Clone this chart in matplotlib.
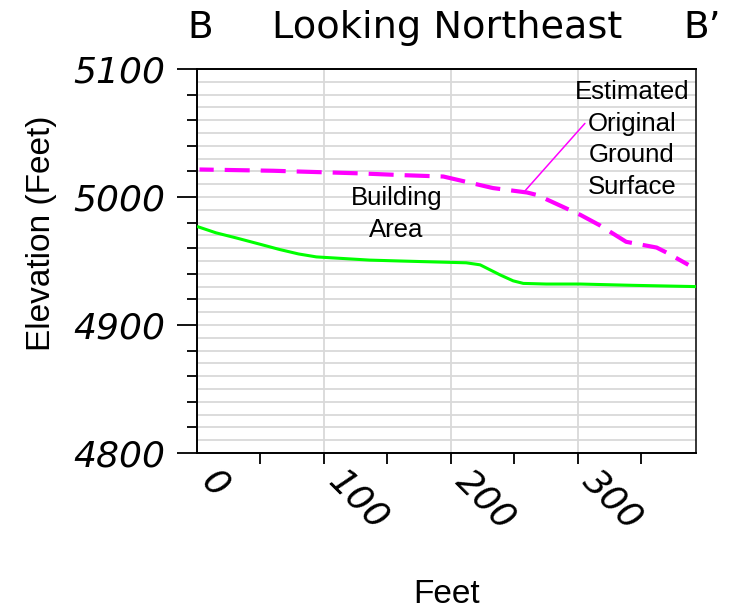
import matplotlib
matplotlib.use('Agg')
import matplotlib.pyplot as plt
import numpy as np
from matplotlib.transforms import ScaledTranslation

# ---- data ----
dist_now = [0, 15, 31, 50, 65, 80, 94, 136, 160, 212, 223, 231, 239, 249, 257, 275, 302, 343, 393]
elev_now = [4977, 4972, 4968, 4963, 4959, 4955.5, 4953.2, 4950.7, 4950, 4948.6, 4947, 4943,
            4939, 4934.5, 4932.5, 4932, 4932, 4931, 4930]

dist_orig = [2, 60, 127, 164, 194, 233, 260, 268, 302, 317, 338, 362, 370, 387]
elev_orig = [5021.5, 5020.5, 5018.5, 5017, 5016, 5007, 5003.5, 5001.5, 4986, 4978, 4965,
             4960.5, 4956.5, 4947]

x_major = [0, 100, 200, 300]
x_minor = [50, 150, 250, 350]
x_labels = ['0', '100', '200', '300']
y_major = [4800, 4900, 5000, 5100]
y_labels = ['4800', '4900', '5000', '5100']

title_left = 'B'
title_mid = 'Looking Northeast'
title_right = 'B\u2019'
xlabel = 'Feet'
ylabel = 'Elevation (Feet)'
note_building = 'Building\nArea'
note_surface = 'Estimated\nOriginal\nGround\nSurface'
note_surface_xy = (342.5, 5045)
note_line_text = (305.5, 5057.5)
note_line_point = (258.5, 5005)
note_building_xy = (157, 4986.5)

W, H = 730, 613
fig = plt.figure(figsize=(W / 100, H / 100), dpi=100)
ax = fig.add_axes([197 / W, 1 - 453 / H, (696 - 197) / W, (453 - 69) / H])
ax.set_xlim(0, 393)
ax.set_ylim(4800, 5100)

grid_c = '#d9d9d9'
ax.set_axisbelow(True)

# y ticks: major every 100, tick marks every 20, gridlines every 10
ax.set_yticks(y_major)
ax.set_yticklabels(y_labels)
ax.set_yticks(np.arange(4800, 5101, 10), minor=True)
ax.yaxis.grid(True, which='both', color=grid_c, lw=1.3)
for t, v in zip(ax.yaxis.get_minor_ticks(), ax.yaxis.get_minorticklocs()):
    if int(round(v)) % 20 != 0:
        t.tick1line.set_visible(False)

ax.set_xticks(x_major)
ax.set_xticklabels(x_labels)
ax.set_xticks(x_minor, minor=True)
ax.xaxis.grid(True, which='major', color=grid_c, lw=1.3)
ax.xaxis.get_major_ticks()[0].tick1line.set_visible(False)

for s in ax.spines.values():
    s.set_linewidth(1.4)
    s.set_color('black')
ax.spines['right'].set_linewidth(1.1)

ax.tick_params(axis='y', which='major', length=14.5, width=1.3, pad=8.5, direction='out')
ax.tick_params(axis='y', which='minor', length=7.5, width=1.3, direction='out')
ax.tick_params(axis='x', which='both', length=8, width=1.3, direction='out')
ax.tick_params(axis='x', which='major', pad=13)

for lbl in ax.get_yticklabels():
    lbl.set_fontsize(26)
    lbl.set_fontstyle('oblique')
    lbl.set_family('DejaVu Sans')

off = ScaledTranslation(3 / 100, 0, fig.dpi_scale_trans)
for lbl in ax.get_xticklabels():
    lbl.set_fontsize(26)
    lbl.set_fontstyle('oblique')
    lbl.set_family('DejaVu Sans')
    lbl.set_rotation(-45)
    lbl.set_ha('left')
    lbl.set_va('baseline')
    lbl.set_rotation_mode('anchor')
    lbl.set_transform(lbl.get_transform() + off)

# lines
ax.plot(dist_now, elev_now, color='#00ff00', lw=2.2, solid_capstyle='butt', zorder=3)
ax.plot(dist_orig, elev_orig, color='#ff00ff', lw=3.0, linestyle=(2.6, (6.0, 2.64)),
        dash_capstyle='butt', zorder=3)

# annotations
ax.text(*note_building_xy, note_building, ha='center', va='center', fontsize=18.5,
        family='Liberation Sans', linespacing=1.4)
ax.text(*note_surface_xy, note_surface, ha='center', va='center', fontsize=18.5,
        family='Liberation Sans', linespacing=1.4)
ax.annotate('', xy=note_line_point, xytext=note_line_text,
            arrowprops=dict(arrowstyle='-', color='#ff00ff', lw=1.1,
                            shrinkA=0, shrinkB=0))

# title pieces
fig.text(187 / W, 1 - 38 / H, title_left, ha='left', va='baseline', fontsize=27, family='DejaVu Sans')
fig.text(447.5 / W, 1 - 38 / H, title_mid, ha='center', va='baseline', fontsize=27.5, family='DejaVu Sans')
fig.text(683 / W, 1 - 38 / H, title_right, ha='left', va='baseline', fontsize=27, family='DejaVu Sans')

# axis labels
fig.text(447 / W, 1 - 603 / H, xlabel, ha='center', va='baseline', fontsize=24, family='Liberation Sans')
fig.text(50 / W, 1 - 233 / H, ylabel, ha='center', va='baseline', rotation=90,
         rotation_mode='anchor', fontsize=24, family='Liberation Sans')

fig.savefig('out.png', dpi=100)
